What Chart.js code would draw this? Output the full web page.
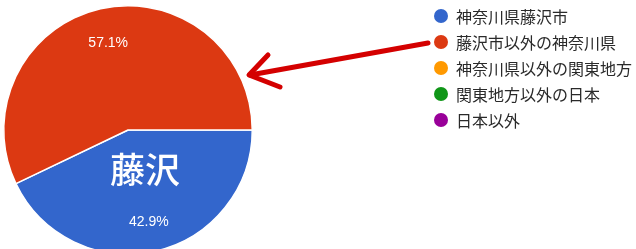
<!DOCTYPE html>
<html>
<head>
<meta charset="utf-8">
<script src="https://cdn.jsdelivr.net/npm/chart.js@4.4.1/dist/chart.umd.min.js"></script>
<style>
html,body{margin:0;padding:0;background:#fff;overflow:hidden;width:636px;height:249px;}
#wrap{position:relative;width:636px;height:258px;}
</style>
</head>
<body>
<div id="wrap"><canvas id="c" width="636" height="258"></canvas></div>
<script>
const categories = ["神奈川県藤沢市", "藤沢市以外の神奈川県", "神奈川県以外の関東地方", "関東地方以外の日本", "日本以外"];
const values = [42.9, 57.1, 0, 0, 0];
const colors = ["#3366cc", "#dc3912", "#ff9900", "#109618", "#990099"];
const sliceLabels = ["42.9%", "57.1%", "", "", ""];
const centerNote = "藤沢";

const cjk = '"Noto Sans CJK JP", "Noto Sans", sans-serif';
const latin = '"Liberation Sans", Arial, sans-serif';

const overlay = {
  id: 'overlay',
  afterDatasetsDraw(chart) {
    const ctx = chart.ctx;
    const meta = chart.getDatasetMeta(0);
    ctx.save();
    const labelR = [0.76, 0.72];
    meta.data.forEach((arc, i) => {
      if (!sliceLabels[i]) return;
      const mid = (arc.startAngle + arc.endAngle) / 2;
      const r = arc.outerRadius * (labelR[i] || 0.73);
      const x = arc.x + Math.cos(mid) * r;
      const y = arc.y + Math.sin(mid) * r;
      ctx.fillStyle = '#ffffff';
      ctx.font = '14px ' + latin;
      ctx.textAlign = 'center';
      ctx.textBaseline = 'middle';
      ctx.fillText(sliceLabels[i], x, y);
    });
    const a0 = meta.data[0];
    ctx.font = '500 35px ' + cjk;
    ctx.fillStyle = '#ffffff';
    ctx.textAlign = 'center';
    ctx.textBaseline = 'middle';
    ctx.fillText(centerNote, a0.x + 17, a0.y + 40);

    // legend
    const lx = 441, ly0 = 16, step = 26;
    categories.forEach((c, i) => {
      const y = ly0 + i * step;
      ctx.beginPath();
      ctx.arc(lx, y, 7, 0, Math.PI * 2);
      ctx.fillStyle = colors[i];
      ctx.fill();
      ctx.fillStyle = '#2a2a2a';
      ctx.font = '16px ' + cjk;
      ctx.textAlign = 'left';
      ctx.textBaseline = 'middle';
      ctx.fillText(c, 456, y + 1);
    });

    // arrow annotation
    ctx.strokeStyle = '#d40000';
    ctx.lineWidth = 5;
    ctx.lineCap = 'round';
    ctx.lineJoin = 'round';
    ctx.beginPath();
    ctx.moveTo(428, 43);
    ctx.lineTo(250, 75);
    ctx.stroke();
    ctx.beginPath();
    ctx.moveTo(268, 55);
    ctx.lineTo(249, 75);
    ctx.lineTo(280, 87);
    ctx.stroke();
    ctx.restore();
  }
};

new Chart(document.getElementById('c'), {
  type: 'pie',
  data: {
    labels: categories,
    datasets: [{
      data: values,
      backgroundColor: colors,
      borderColor: '#ffffff',
      borderWidth: 1.5
    }]
  },
  options: {
    responsive: false,
    animation: false,
    rotation: 90,
    layout: { padding: { left: 3, top: 5, right: 383, bottom: 3 } },
    plugins: {
      legend: { display: false },
      tooltip: { enabled: false }
    }
  },
  plugins: [overlay]
});
</script>
</body>
</html>
